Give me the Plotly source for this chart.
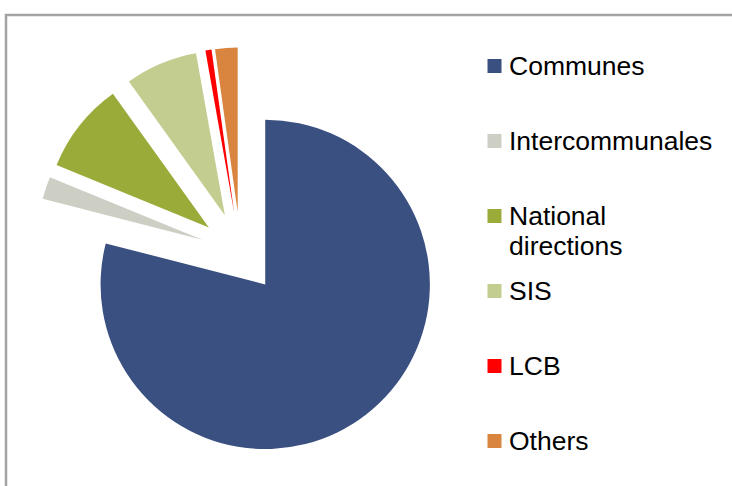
import textwrap
import plotly.graph_objects as go

# Share of the total by body (percent)
categories = ["Communes", "Intercommunales", "National directions", "SIS", "LCB", "Others"]
shares = [79.0, 2.2, 8.9, 7.1, 0.6, 2.2]
colors = ["#3A5081", "#CDCEC4", "#9BAB3A", "#C3CD8F", "#FF0000", "#D9843F"]

W, H = 732, 486

# Pie placement: centre and outer reach (radius * (1 + pull)) in pixels
cx, cy, reach = 240.5, 252.5, 205.0

fig = go.Figure(
    go.Pie(
        labels=categories,
        values=shares,
        sort=False,
        direction="clockwise",
        rotation=0,
        pull=[0.245] * len(categories),
        marker=dict(colors=colors, line=dict(width=0)),
        textinfo="none",
        hoverinfo="label+percent",
        showlegend=False,
        domain=dict(x=[(cx - reach) / W, (cx + reach) / W],
                    y=[1 - (cy + reach) / H, 1 - (cy - reach) / H]),
    )
)

# Legend built from the category list: colour square + label
legend_rows = [66, 141, 216, 291, 366, 441]
font = dict(family="Liberation Sans, Arial, sans-serif", size=26.5, color="#000000")
line_gap = 30
shapes = []
annotations = []
for label, color, yc in zip(categories, colors, legend_rows):
    shapes.append(dict(
        type="rect", xref="paper", yref="paper",
        x0=487.5 / W, x1=501.5 / W,
        y0=1 - (yc + 7) / H, y1=1 - (yc - 7) / H,
        fillcolor=color, line=dict(width=0),
    ))
    for k, part in enumerate(textwrap.wrap(label, 15)):
        annotations.append(dict(
            text=part, xref="paper", yref="paper",
            x=506.5 / W, y=1 - (yc + k * line_gap) / H,
            xanchor="left", yanchor="middle", showarrow=False,
            font=font,
        ))

# Chart-area frame
shapes.append(dict(
    type="rect", xref="paper", yref="paper",
    x0=6 / W, y0=-0.05, x1=1.05, y1=1 - 15 / H,
    line=dict(color="#A3A3A3", width=2.5),
    fillcolor="rgba(0,0,0,0)", layer="below",
))

fig.update_layout(
    width=W, height=H,
    margin=dict(l=0, r=0, t=0, b=0),
    paper_bgcolor="white",
    plot_bgcolor="white",
    shapes=shapes,
    annotations=annotations,
)

fig.write_html("out.html")
